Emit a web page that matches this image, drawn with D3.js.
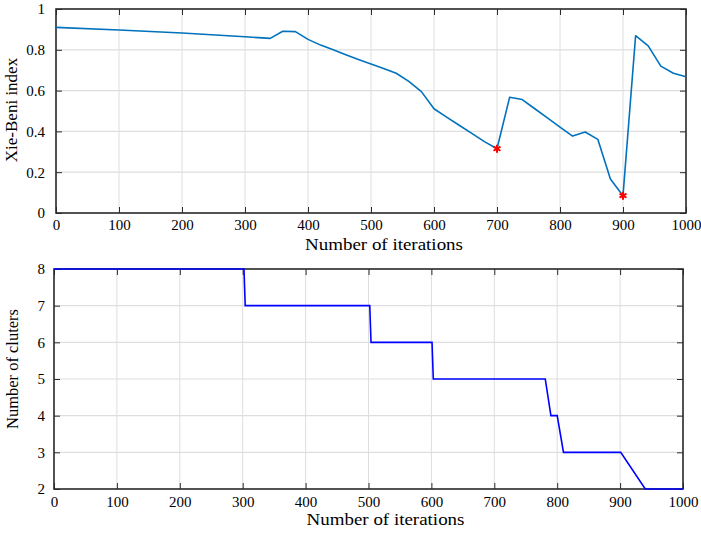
<!DOCTYPE html>
<html>
<head>
<meta charset="utf-8">
<script src="https://cdn.jsdelivr.net/npm/d3@7"></script>
<style>
  html, body { margin: 0; padding: 0; background: #fff; }
  svg { display: block; font-family: "Liberation Serif", "Times New Roman", serif; }
</style>
</head>
<body>
<svg id="chart" width="701" height="535"></svg>
<script>
// ---- Data ----
const iterTop = [0,100,200,300,340,360,380,400,420,440,460,480,500,520,540,560,580,600,620,640,660,680,700,720,740,760,780,800,820,840,860,880,900,920,940,960,980,1000];
const xbIndex = [0.91,0.897,0.882,0.864,0.856,0.891,0.889,0.851,0.823,0.80,0.776,0.753,0.730,0.708,0.685,0.645,0.595,0.511,0.47,0.43,0.39,0.35,0.315,0.567,0.556,0.511,0.466,0.421,0.377,0.397,0.361,0.167,0.085,0.869,0.819,0.72,0.685,0.668];
const minIter = [700, 900];
const minXB = [0.315, 0.085];

const iterBottom = [0,302,304,502,504,601,603,781,790,800,810,901,940,1000];
const clusters = [8,8,7,7,6,6,5,5,4,4,3,3,2,2];

const xTicks = [0,100,200,300,400,500,600,700,800,900,1000];
const yTicksTop = [0,0.2,0.4,0.6,0.8,1];
const yTicksBottom = [2,3,4,5,6,7,8];

const xLabel = "Number of iterations";
const yLabelTop = "Xie-Beni index";
const yLabelBottom = "Number of cluters";

// ---- Drawing ----
const svg = d3.select("#chart");
const axisColor = "#2b2b2b";
const gridColor = "#dedede";

function panel(box, xDomain, yDomain, yTicks, yFmt, opts) {
  const x = d3.scaleLinear().domain(xDomain).range([box.left, box.right]);
  const y = d3.scaleLinear().domain(yDomain).range([box.bottom, box.top]);
  const g = svg.append("g");

  // grid
  g.append("g").selectAll("line").data(xTicks).join("line")
    .attr("x1", d => x(d)).attr("x2", d => x(d))
    .attr("y1", box.top).attr("y2", box.bottom)
    .attr("stroke", gridColor).attr("stroke-width", 1);
  g.append("g").selectAll("line").data(yTicks).join("line")
    .attr("x1", box.left).attr("x2", box.right)
    .attr("y1", d => y(d)).attr("y2", d => y(d))
    .attr("stroke", gridColor).attr("stroke-width", 1.2);

  // axes (ticks inward)
  const ax = [
    g.append("g").attr("transform", `translate(0,${box.bottom})`)
      .call(d3.axisBottom(x).tickValues(xTicks).tickSizeInner(-6).tickSizeOuter(0).tickPadding(opts.xPad).tickFormat(d3.format("d"))),
    g.append("g").attr("transform", `translate(0,${box.top})`)
      .call(d3.axisTop(x).tickValues(xTicks).tickSizeInner(-6).tickSizeOuter(0).tickFormat("")),
    g.append("g").attr("transform", `translate(${box.left},0)`)
      .call(d3.axisLeft(y).tickValues(yTicks).tickSizeInner(-6).tickSizeOuter(0).tickPadding(opts.yPad).tickFormat(yFmt)),
    g.append("g").attr("transform", `translate(${box.right},0)`)
      .call(d3.axisRight(y).tickValues(yTicks).tickSizeInner(-6).tickSizeOuter(0).tickFormat(""))
  ];
  ax.forEach(a => {
    a.attr("font-family", null).attr("font-size", null);
    a.select(".domain").remove();
    a.selectAll(".tick line").attr("stroke", axisColor).attr("stroke-width", 1);
    a.selectAll(".tick text").attr("fill", "#000").style("font-size", "15px")
      .style("font-family", "'Liberation Serif', 'Times New Roman', serif");
  });

  // frame
  g.append("rect")
    .attr("x", box.left).attr("y", box.top)
    .attr("width", box.right - box.left).attr("height", box.bottom - box.top)
    .attr("fill", "none").attr("stroke", axisColor).attr("stroke-width", 1.6);

  // labels
  g.append("text")
    .attr("x", (box.left + box.right) / 2 + opts.xLabDx).attr("y", opts.xLabY)
    .attr("text-anchor", "middle").style("font-size", "17px")
    .attr("textLength", 158).attr("lengthAdjust", "spacingAndGlyphs")
    .text(xLabel);
  g.append("text")
    .attr("transform", `translate(${opts.yLabX},${opts.yLabCy}) rotate(-90)`)
    .attr("text-anchor", "middle").style("font-size", opts.yLabSize)
    .text(opts.yLabel);

  return {x, y, g};
}

// Top panel
const topP = panel({left: 56, right: 686, top: 9, bottom: 213}, [0, 1000], [0, 1],
  yTicksTop, d => (d === 0 || d === 1) ? String(d) : d3.format(".1f")(d),
  {xPad: 6, yPad: 11, xLabY: 250, xLabDx: 13, yLabX: 17, yLabCy: 110, yLabSize: "17px", yLabel: yLabelTop});

topP.g.append("path")
  .datum(iterTop.map((d, i) => [d, xbIndex[i]]))
  .attr("fill", "none").attr("stroke", "#0072BD").attr("stroke-width", 1.6)
  .attr("stroke-linejoin", "round")
  .attr("d", d3.line().x(d => topP.x(d[0])).y(d => topP.y(d[1])));

topP.g.selectAll("path.mk").data(minIter.map((d, i) => [d, minXB[i]])).join("path")
  .attr("class", "mk")
  .attr("transform", d => `translate(${topP.x(d[0])},${topP.y(d[1])})`)
  .attr("d", d3.symbol(d3.symbolAsterisk, 45))
  .attr("fill", "none").attr("stroke", "#ff0000").attr("stroke-width", 2);

// Bottom panel
const botP = panel({left: 54, right: 683, top: 269, bottom: 489}, [0, 1000], [2, 8],
  yTicksBottom, d3.format("d"),
  {xPad: 7, yPad: 9, xLabY: 525, xLabDx: 17, yLabX: 18, yLabCy: 369, yLabSize: "16.5px", yLabel: yLabelBottom});

botP.g.append("path")
  .datum(iterBottom.map((d, i) => [d, clusters[i]]))
  .attr("fill", "none").attr("stroke", "#0000FF").attr("stroke-width", 1.6)
  .attr("d", d3.line().x(d => botP.x(d[0])).y(d => botP.y(d[1])));
</script>
</body>
</html>
